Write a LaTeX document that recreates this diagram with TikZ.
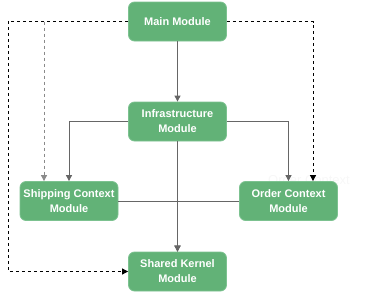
\documentclass[tikz,border=0pt]{standalone}
\usepackage{fontspec}
\setmainfont{Liberation Sans}
\usetikzlibrary{arrows.meta}
\definecolor{modfill}{HTML}{62B277}
\definecolor{modline}{HTML}{7CC290}
\definecolor{linkgray}{HTML}{666666}
\definecolor{softgray}{HTML}{8A8A8A}
\tikzset{
  module/.style={draw=modline, fill=modfill, rounded corners=6pt, line width=0.8pt,
    minimum width=98pt, minimum height=39pt, align=center, text=white,
    font=\bfseries\fontsize{11}{15}\selectfont, inner sep=0pt},
  dep/.style={draw=linkgray, line width=0.9pt, -{Triangle[length=6pt,width=6pt]}},
  plain/.style={draw=linkgray, line width=0.9pt},
  wire/.style={draw=black, line width=0.8pt, dashed, dash pattern=on 3pt off 3pt,
    -{Triangle[length=6pt,width=6pt]}},
  softwire/.style={draw=softgray, line width=0.8pt, dash pattern=on 3pt off 3pt,
    -{Triangle[length=6pt,width=6pt]}}
}
\begin{document}
\begin{tikzpicture}[x=1pt,y=-1pt]
\useasboundingbox (0,0) rectangle (370,292);

% faint leftover label
\node[text=black!3, font=\fontsize{13}{15}\selectfont] (ghost) at (309,180) {Order Context};

% modules
\node[module] (main)  at (177.5,21.5)  {Main Module};
\node[module] (infra) at (177.5,121.5) {Infrastructure\\Module};
\node[module] (ship)  at (69,201)      {Shipping Context\\Module};
\node[module] (order) at (288.5,201)   {Order Context\\Module};
\node[module] (kernel) at (177.5,271.5) {Shared Kernel\\Module};

% junction coordinates for the dashed routes
\coordinate (farleft) at (8,21.5);
\coordinate (shipx) at (44,21.5);
\coordinate (orderx) at (313,21.5);

% solid dependencies
\draw[plain] (ship.east) -- (order.west);
\draw[dep] (ship.east) -| (kernel.north);
\draw[dep] (order.west) -| (kernel.north);
\draw[dep] (infra.south) -- (kernel.north);
\draw[dep] (main.south) -- (infra.north);
\draw[dep] (infra.west) -| (ship.north);
\draw[dep] (infra.east) -| (order.north);

% dashed wiring from the main module
\draw[softwire] (shipx) -- (shipx |- ship.north);
\draw[wire] (main.west) -- (farleft) |- (kernel.west);
\draw[wire] (main.east) -- (orderx) -- (orderx |- order.north);
\end{tikzpicture}
\end{document}
